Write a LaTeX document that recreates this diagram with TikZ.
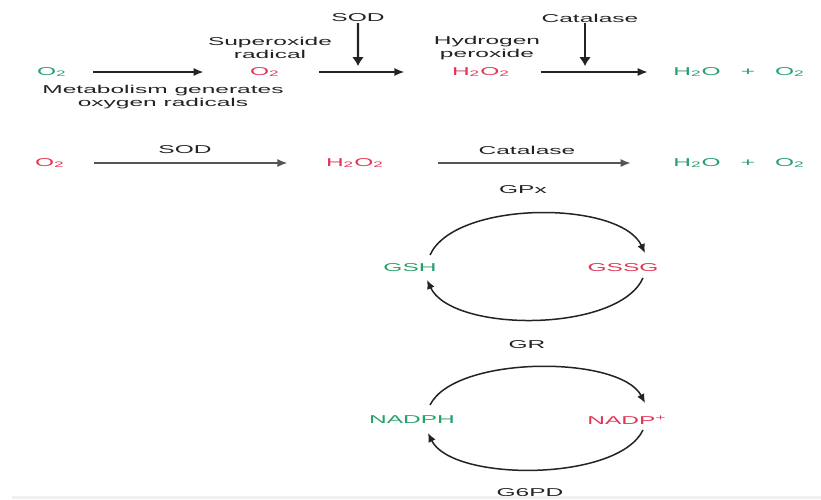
\documentclass[tikz,border=0pt]{standalone}
\usepackage{fontspec}
\setmainfont{Liberation Sans}
\usetikzlibrary{arrows.meta}
\definecolor{chemg}{RGB}{40,160,110}
\definecolor{chemr}{RGB}{225,55,85}
\definecolor{ink}{RGB}{35,35,35}
\definecolor{ink2}{RGB}{85,85,85}
\begin{document}
\begin{tikzpicture}[x=1pt,y=-1pt,
  txt/.style={font=\fontsize{11.4}{13}\selectfont, xscale=2.15, inner sep=1pt, align=center, text=ink},
  grn/.style={txt, text=chemg},
  red/.style={txt, text=chemr},
  arr/.style={line width=1.6pt, draw=ink, -{Latex[length=10pt,width=8pt]}},
  arrg/.style={line width=1.6pt, draw=ink2, -{Latex[length=10pt,width=8pt]}},
  varr/.style={line width=2.2pt, draw=ink, -{Latex[length=9pt,width=12pt]}},
  carr/.style={line width=1.5pt, draw=ink, -{Latex[length=9pt,width=8pt]}}]
\useasboundingbox (0,0) rectangle (821,499);
% ---- row 1
\node[grn] (o2a) at (52,72) {O\textsubscript{2}};
\node[txt] (metab) at (163,97) {Metabolism generates\\oxygen radicals};
\node[red] (o2b) at (265,72) {O\textsubscript{2}};
\node[txt] (superox) at (270,48) {Superoxide\\radical};
\node[txt] (sod1) at (358,18) {SOD};
\coordinate (sod1t) at (358,66);
\node[txt] (hyd) at (487,48) {Hydrogen\\peroxide};
\node[red] (h2o2a) at (481,72) {H\textsubscript{2}O\textsubscript{2}};
\node[txt] (cat1) at (590,18) {Catalase};
\coordinate (cat1t) at (585,66);
\node[grn] (h2oa) at (697,72) {H\textsubscript{2}O};
\node[grn] (plusa) at (748,72) {+};
\node[grn] (o2c) at (790,72) {O\textsubscript{2}};
\draw[arr, shorten <=24pt, shorten >=44pt] (o2a) -- (o2b);
\draw[arr, shorten <=37pt, shorten >=45pt] (o2b) -- (h2o2a);
\draw[arr, shorten <=28pt, shorten >=23pt] (h2o2a) -- (h2oa);
\draw[varr] (sod1) -- (sod1t);
\draw[varr] ([xshift=-5pt]cat1.south) -- (cat1t);
% ---- row 2
\node[red] (o2d) at (50,163) {O\textsubscript{2}};
\node[txt] (sod2) at (185,150) {SOD};
\node[red] (h2o2b) at (355,163) {H\textsubscript{2}O\textsubscript{2}};
\node[txt] (cat2) at (527,150) {Catalase};
\node[txt] (gpx) at (523,190) {GPx};
\node[grn] (h2ob) at (697,163) {H\textsubscript{2}O};
\node[grn] (plusb) at (748,163) {+};
\node[grn] (o2e) at (790,163) {O\textsubscript{2}};
\draw[arrg, shorten <=27pt, shorten >=36pt] (o2d) -- (h2o2b);
\draw[arrg, shorten <=51pt, shorten >=40pt] (h2o2b) -- (h2ob);
% ---- glutathione cycle
\node[grn] (gsh) at (410,268) {GSH};
\node[red] (gssg) at (623,268) {GSSG};
\draw[carr] ([xshift=20pt,yshift=13pt]gsh.center) .. controls (455,200) and (620,200) .. ([xshift=22pt,yshift=15pt]gssg.center);
\draw[carr] ([xshift=20pt,yshift=-10pt]gssg.center) .. controls (618,333) and (452,333) .. ([xshift=17pt,yshift=-12pt]gsh.center);
\node[txt] (gr) at (527,345) {GR};
% ---- NADPH cycle
\node[grn] (nadph) at (412,420) {NADPH};
\node[red] (nadp) at (627,420) {NADP\textsuperscript{+}};
\draw[carr] ([xshift=18pt,yshift=15pt]nadph.center) .. controls (455,355) and (620,355) .. ([xshift=18pt,yshift=17pt]nadp.center);
\draw[carr] ([xshift=16pt,yshift=-10pt]nadp.center) .. controls (618,482) and (452,482) .. ([xshift=16pt,yshift=-13pt]nadph.center);
\node[txt] (g6pd) at (530,493) {G6PD};
\fill[black!6] (12,496) rectangle (821,499);
\end{tikzpicture}
\end{document}
